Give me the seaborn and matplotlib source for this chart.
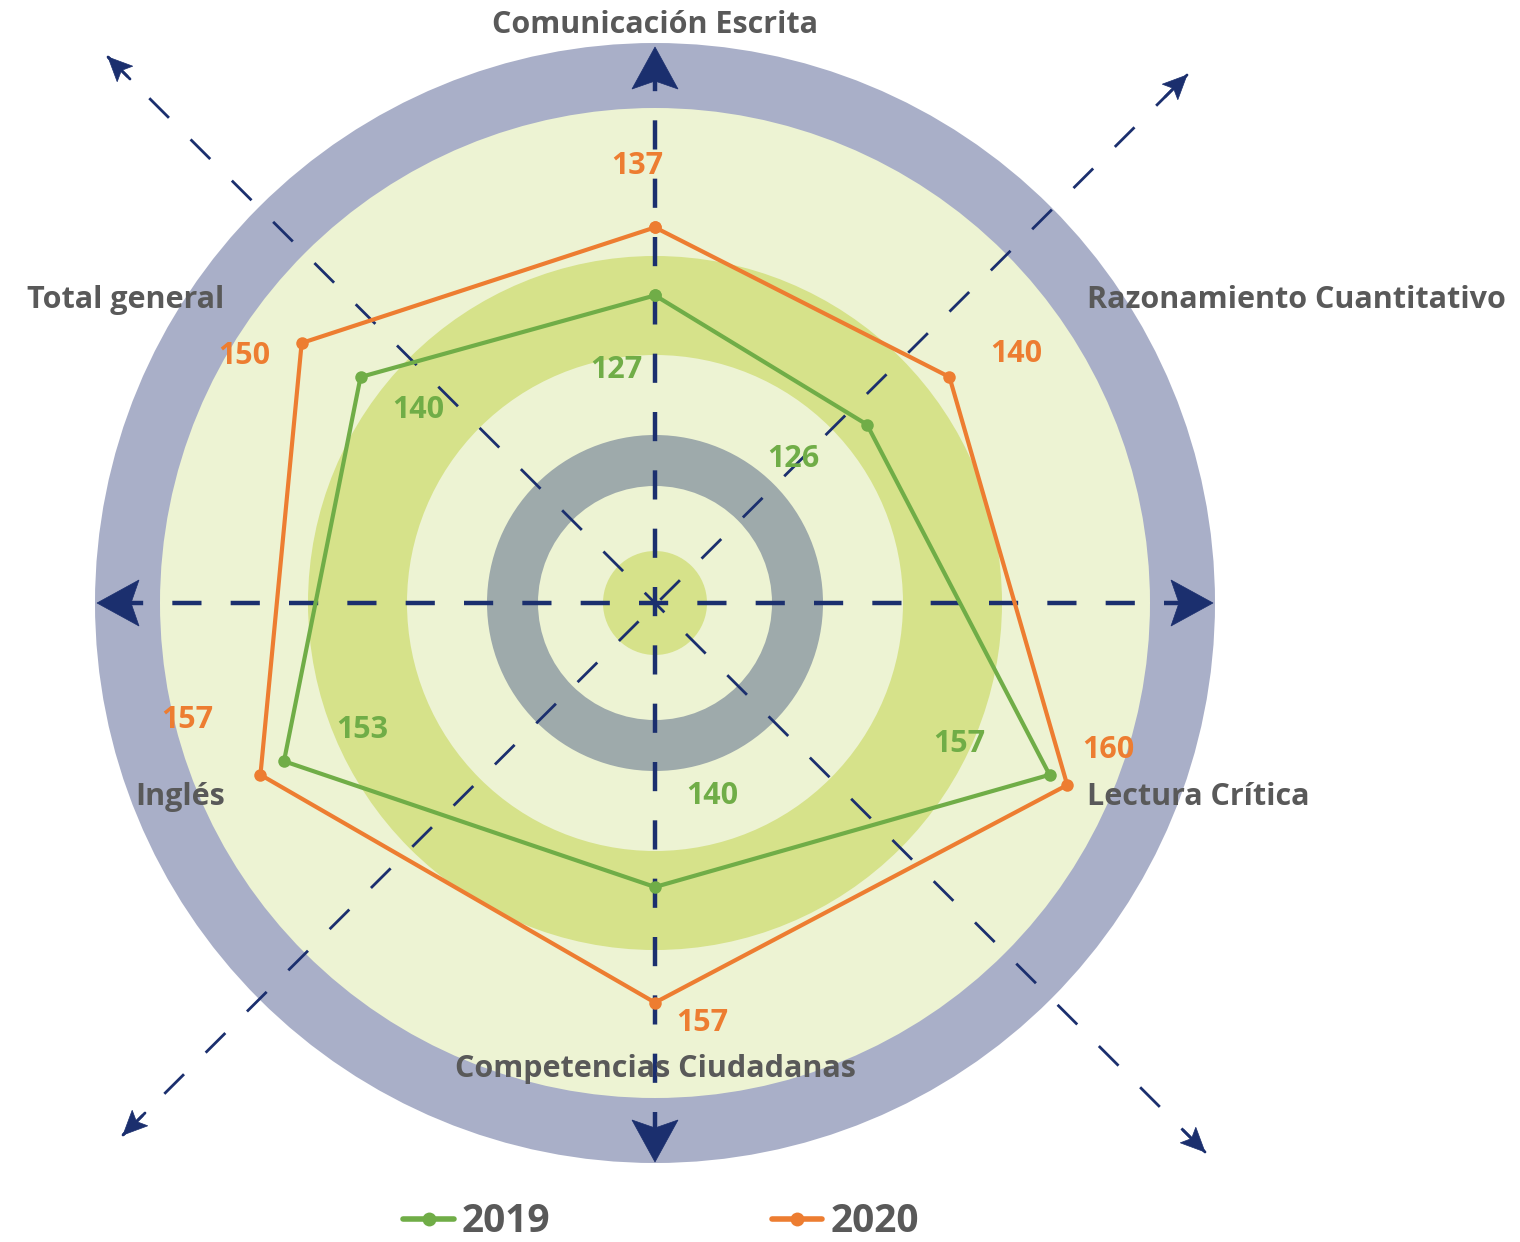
import numpy as np
import pandas as pd
import matplotlib
matplotlib.use("Agg")
import matplotlib.pyplot as plt
from matplotlib.patches import Circle, Polygon
from matplotlib.lines import Line2D
import seaborn as sns

# ---------------- data ----------------
categories = ["Comunicación Escrita", "Razonamiento Cuantitativo", "Lectura Crítica",
              "Competencias Ciudadanas", "Inglés", "Total general"]
values_2019 = [127, 126, 157, 140, 153, 140]
values_2020 = [137, 140, 160, 157, 157, 150]
series_names = ["2019", "2020"]

# ---------------- style ----------------
sns.set_style("white")
plt.rcParams['font.family'] = ['Open Sans', 'DejaVu Sans']
plt.rcParams['lines.scale_dashes'] = False

GREEN = "#70ad47"
ORANGE = "#ed7d31"
TXT = "#595959"
NAVY = "#1b2f6e"

W, H = 1520, 1242
fig = plt.figure(figsize=(W / 100, H / 100), dpi=100)

# ---------------- decorative background (pixel coordinates) ----------------
bg = fig.add_axes([0, 0, 1, 1])
bg.set_xlim(0, W)
bg.set_ylim(H, 0)
bg.set_axis_off()

cx, cy = 655, 603
rings = [(560, "#a9afc8"), (495, "#edf3d3"), (347, "#d6e28a"), (248, "#edf3d3"),
         (168, "#9eaaab"), (117, "#edf3d3"), (52, "#d6e28a")]
for r, c in rings:
    bg.add_patch(Circle((cx, cy), r, facecolor=c, edgecolor="none", zorder=1))

# main dashed cross
period = 58.5
x0 = cx - 14.5 - period * 9
bg.plot([x0, 1195], [cy, cy], color=NAVY, lw=3.2, dashes=(21, 21), dash_capstyle='butt', zorder=2)
y0 = cy - 14.5 - period * 9
bg.plot([cx, cx], [y0, 1145], color=NAVY, lw=3.2, dashes=(21, 21), dash_capstyle='butt', zorder=2)

# diagonals
bg.plot([123, 1187], [1135, 75], color=NAVY, lw=2.0, dashes=(20, 22), dash_capstyle='butt', zorder=2)
bg.plot([108, 1205], [57, 1152], color=NAVY, lw=2.0, dashes=(20, 22), dash_capstyle='butt', zorder=2)


def arrowhead(tip, direction, L, Wd, notch):
    u = np.array(direction, float)
    u /= np.linalg.norm(u)
    p = np.array([-u[1], u[0]])
    t = np.array(tip, float)
    pts = [t, t - L * u + Wd * p, t - (L - notch) * u, t - L * u - Wd * p]
    bg.add_patch(Polygon(pts, closed=True, facecolor=NAVY, edgecolor=NAVY, lw=0.5, zorder=3))


arrowhead((1213, cy), (1, 0), 42, 23, 8)
arrowhead((97, cy), (-1, 0), 42, 23, 8)
arrowhead((cx, 47), (0, -1), 42, 23, 8)
arrowhead((cx, 1162), (0, 1), 42, 23, 8)
arrowhead((108, 57), (-1, -1), 24, 11, 5)
arrowhead((1187, 75), (1, -1), 24, 11, 5)
arrowhead((123, 1135), (-1, 1), 24, 11, 5)
arrowhead((1205, 1152), (1, 1), 24, 11, 5)
bg.plot([108, 130], [57, 79], color=NAVY, lw=2.0, zorder=3)
bg.plot([1187, 1165], [75, 97], color=NAVY, lw=2.0, zorder=3)
bg.plot([123, 145], [1135, 1113], color=NAVY, lw=2.0, zorder=3)
bg.plot([1205, 1183], [1152, 1130], color=NAVY, lw=2.0, zorder=3)

# ---------------- radar chart ----------------
rmin, rmax = 90, 170
Rpx = 6.8 * (rmax - rmin)
pcx, pcy = 655, 547
ax = fig.add_axes([(pcx - Rpx) / W, (H - pcy - Rpx) / H, 2 * Rpx / W, 2 * Rpx / H],
                  projection='polar')
ax.set_theta_offset(np.pi / 2)
ax.set_theta_direction(-1)
ax.patch.set_alpha(0)

n = len(categories)
theta = np.linspace(0, 2 * np.pi, n, endpoint=False)
theta_c = np.append(theta, 2 * np.pi)

df = pd.DataFrame({
    "theta": np.concatenate([theta_c, theta_c]),
    "value": values_2019 + values_2019[:1] + values_2020 + values_2020[:1],
    "serie": [series_names[0]] * (n + 1) + [series_names[1]] * (n + 1),
})

sns.lineplot(data=df, x="theta", y="value", hue="serie", palette=[GREEN, ORANGE],
             sort=False, marker="o", markersize=9, markeredgewidth=0, linewidth=3,
             ax=ax, legend=False, estimator=None)
ax.set_ylim(rmin, rmax)
ax.set_axis_off()

FS = 22
# category labels
label_r = 166.8
cat_offsets = [(0, 0, 'center'), (-20, -14, 'left'), (-20, 11, 'left'),
               (0, 0, 'center'), (22, 11, 'right'), (22, -14, 'right')]
for t, name, (dx, dy, ha) in zip(theta, categories, cat_offsets):
    ax.annotate(name, xy=(t, label_r), xytext=(dx, dy), textcoords='offset pixels',
                ha=ha, va='center', fontsize=FS, fontweight='bold', color=TXT,
                annotation_clip=False)

# data labels
off_2019 = [(-39, -75), (-74, -34), (-90, 31), (57, 91), (78, 31), (58, -33)]
off_2020 = [(-18, 61), (67, 23), (41, 35), (47, -20), (-73, 55), (-57, -13)]
for t, v, (dx, dy) in zip(theta, values_2019, off_2019):
    ax.annotate(f"{v}", xy=(t, v), xytext=(dx, dy), textcoords='offset pixels',
                ha='center', va='center', fontsize=FS, fontweight='bold', color=GREEN,
                annotation_clip=False)
for t, v, (dx, dy) in zip(theta, values_2020, off_2020):
    ax.annotate(f"{v}", xy=(t, v), xytext=(dx, dy), textcoords='offset pixels',
                ha='center', va='center', fontsize=FS, fontweight='bold', color=ORANGE,
                annotation_clip=False)

# legend
handles = [Line2D([], [], color=GREEN, lw=4, marker='o', markersize=10, markeredgewidth=0),
           Line2D([], [], color=ORANGE, lw=4, marker='o', markersize=10, markeredgewidth=0)]
leg = fig.legend(handles, series_names, loc='center', bbox_to_anchor=(661 / W, 1 - 1222 / H),
                 ncol=2, frameon=False, handlelength=1.3, handletextpad=0.2,
                 columnspacing=5.7, prop={'weight': 'bold', 'size': 28})
for t in leg.get_texts():
    t.set_color(TXT)

fig.savefig("out.png", dpi=100)
